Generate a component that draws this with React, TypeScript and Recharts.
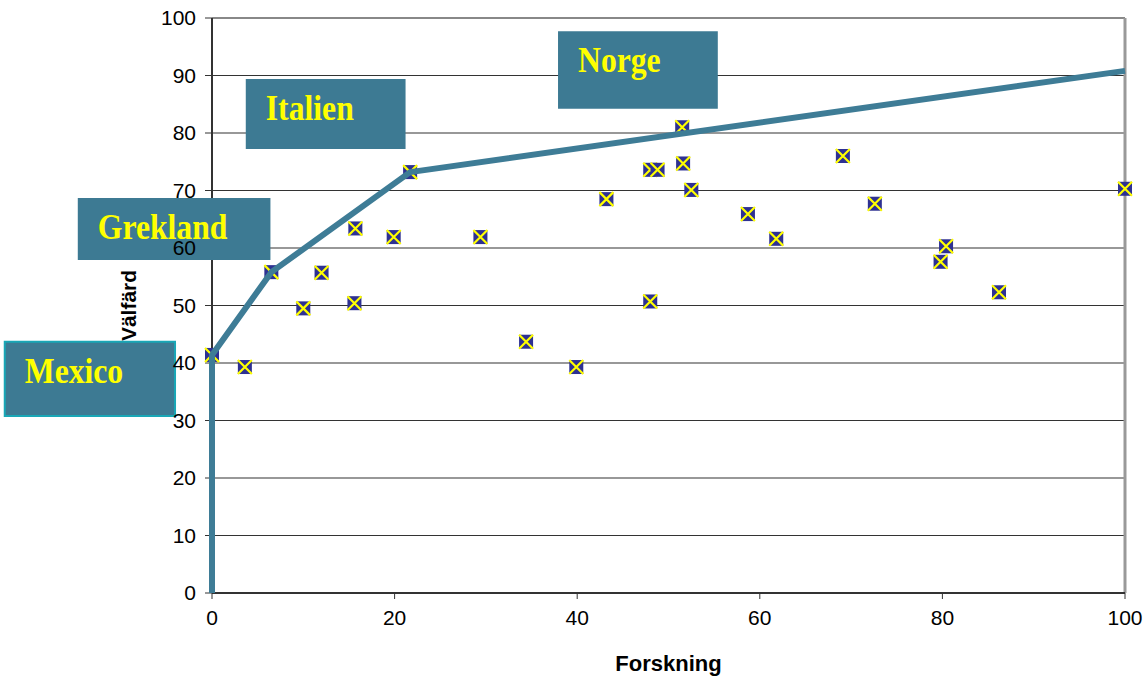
import React from 'react';
import {
  ScatterChart,
  Scatter,
  XAxis,
  YAxis,
  CartesianGrid,
  ReferenceArea,
  ReferenceLine,
} from 'recharts';

// ---- Data ----
const forskning = [0, 3.6, 6.5, 10.0, 12.0, 15.6, 15.7, 19.9, 21.7, 29.4, 34.4, 39.9, 43.2, 48.0, 48.0, 48.8, 51.5, 51.6, 52.5, 58.7, 61.8, 69.1, 72.6, 79.8, 80.4, 86.2, 100];
const valfard = [41.4, 39.3, 55.8, 49.5, 55.7, 50.4, 63.4, 61.9, 73.2, 61.9, 43.7, 39.3, 68.5, 50.7, 73.6, 73.6, 81.0, 74.7, 70.1, 65.9, 61.6, 76.0, 67.7, 57.6, 60.3, 52.3, 70.3];
const frontierX = [0, 0, 6.5, 21.7, 100];
const frontierY = [0, 41.4, 55.8, 73.2, 90.8];
const xTicks = [0, 20, 40, 60, 80, 100];
const yTicks = [0, 10, 20, 30, 40, 50, 60, 70, 80, 90, 100];
const countryNames = ['Norge', 'Italien', 'Grekland', 'Mexico'];
const boxX1 = [37.9, 3.7, -14.7, -22.7];
const boxX2 = [55.4, 21.2, 6.4, -4.05];
const boxY1 = [84.2, 77.2, 57.9, 30.8];
const boxY2 = [97.7, 89.4, 68.7, 43.7];

const points = forskning.map((x, i) => ({ x, y: valfard[i] }));
const frontier = frontierX.map((x, i) => ({ x, y: frontierY[i] }));

const SANS = "'Liberation Sans', Arial, sans-serif";
const SERIF = "'Liberation Serif', 'Times New Roman', serif";
const BOX_FILL = '#3D7A93';
const LINE_COLOR = '#3E7C96';

const Marker = (props: any) => {
  const { cx, cy } = props;
  if (cx == null || cy == null) return <g />;
  const s = 7;
  return (
    <g>
      <rect x={cx - s} y={cy - s} width={2 * s} height={2 * s} fill="#2E3192" />
      <path
        d={`M${cx - s},${cy - s}L${cx + s},${cy + s}M${cx + s},${cy - s}L${cx - s},${cy + s}`}
        stroke="#FFFF00"
        strokeWidth={2.2}
      />
    </g>
  );
};

const NoShape = () => <g />;

const boxLabel = (name: string) => (props: any) => {
  const vb = props.viewBox || {};
  return (
    <text
      transform={`translate(${vb.x + 20},${vb.y + 41}) scale(0.88,1)`}
      fontFamily={SERIF}
      fontWeight="bold"
      fontSize={36}
      fill="#FFFF00"
    >
      {name}
    </text>
  );
};

const xLabel = (props: any) => {
  const vb = props.viewBox || {};
  return (
    <text
      x={vb.x + vb.width / 2}
      y={vb.y + 78}
      textAnchor="middle"
      fontFamily={SANS}
      fontWeight="bold"
      fontSize={22}
      fill="#000"
    >
      Forskning
    </text>
  );
};

const yLabel = (props: any) => {
  const vb = props.viewBox || {};
  const x = vb.x + vb.width - 76;
  const y = vb.y + vb.height / 2;
  return (
    <text
      x={x}
      y={y}
      transform={`rotate(-90, ${x}, ${y})`}
      textAnchor="middle"
      fontFamily={SANS}
      fontWeight="bold"
      fontSize={21}
      fill="#000"
    >
      Välfärd
    </text>
  );
};

export default function App() {
  return (
    <div style={{ position: 'fixed', top: 0, left: 0, width: 1146, height: 682, background: '#fff' }}>
      <ScatterChart
        width={1146}
        height={682}
        margin={{ top: 18, right: 21, bottom: 0, left: 0 }}
      >
        <CartesianGrid vertical={false} stroke="#333" strokeWidth={1.2} />
        <XAxis
          type="number"
          dataKey="x"
          domain={[0, 100]}
          ticks={xTicks}
          height={89}
          tickSize={6}
          tickMargin={11}
          axisLine={{ stroke: '#333', strokeWidth: 2 }}
          tickLine={{ stroke: '#333' }}
          tick={{ fontSize: 21, fill: '#000', fontFamily: SANS }}
          label={{ content: xLabel }}
        />
        <YAxis
          type="number"
          dataKey="y"
          domain={[0, 100]}
          ticks={yTicks}
          width={212}
          tickSize={7}
          tickMargin={9}
          axisLine={{ stroke: '#333', strokeWidth: 2 }}
          tickLine={{ stroke: '#333' }}
          tick={{ fontSize: 21, fill: '#000', fontFamily: SANS }}
          label={{ content: yLabel }}
        />
        <ReferenceLine y={100} stroke="#888" strokeWidth={2} />
        <ReferenceLine x={100} stroke="#999" strokeWidth={3} />
        <Scatter data={points} shape={Marker} isAnimationActive={false} />
        <Scatter
          data={frontier}
          shape={NoShape}
          line={{ stroke: LINE_COLOR, strokeWidth: 6, strokeLinejoin: 'round' }}
          lineType="joint"
          isAnimationActive={false}
        />
        {countryNames.map((name, i) => (
          <ReferenceArea
            key={name}
            x1={boxX1[i]}
            x2={boxX2[i]}
            y1={boxY1[i]}
            y2={boxY2[i]}
            ifOverflow="visible"
            fill={BOX_FILL}
            fillOpacity={1}
            stroke={name === 'Mexico' ? '#19A7B6' : 'none'}
            strokeWidth={name === 'Mexico' ? 2 : 0}
            zIndex={1500}
            label={{ content: boxLabel(name) }}
          />
        ))}
      </ScatterChart>
    </div>
  );
}
